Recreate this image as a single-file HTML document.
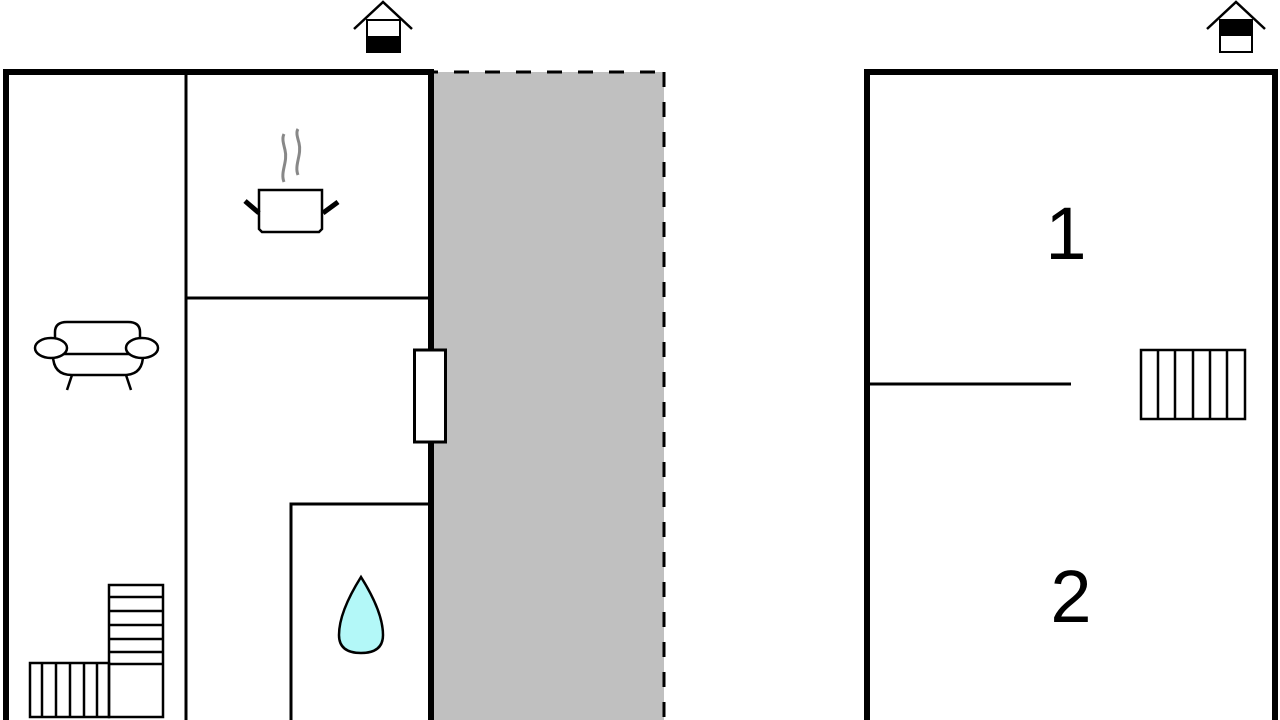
<!DOCTYPE html>
<html><head><style>html,body{margin:0;padding:0;background:#fff;}svg{display:block}</style></head>
<body>
<svg width="1280" height="720" viewBox="0 0 1280 720" xmlns="http://www.w3.org/2000/svg">
<rect x="434" y="72" width="230" height="660" fill="#c0c0c0"/>
<line x1="434" y1="72" x2="664" y2="72" stroke="#000" stroke-width="3" stroke-dasharray="15 16" stroke-dashoffset="-20"/>
<line x1="664" y1="72" x2="664" y2="720" stroke="#000" stroke-width="3" stroke-dasharray="15 15"/>
<!-- left building -->
<path d="M6 725 V72 H431 V725" fill="none" stroke="#000" stroke-width="6"/>
<line x1="186" y1="74" x2="186" y2="720" stroke="#000" stroke-width="3"/>
<line x1="186" y1="298" x2="429" y2="298" stroke="#000" stroke-width="3"/>
<path d="M291 720 V504 H429" fill="none" stroke="#000" stroke-width="3"/>
<rect x="414.5" y="350" width="31" height="92" fill="#fff" stroke="#000" stroke-width="3"/>
<!-- pot -->
<path d="M284 182 C280 172 288 162 285 150 C283 142 282 138 284 134" fill="none" stroke="#888" stroke-width="3"/>
<path d="M298 175 C294 165 302 155 299 143 C297 136 296 132 298 129" fill="none" stroke="#888" stroke-width="3"/>
<path d="M259 190 H322 V229 L319 232 H262 L259 229 Z" fill="#fff" stroke="#000" stroke-width="2.5"/>
<line x1="245" y1="201" x2="259" y2="213" stroke="#000" stroke-width="5"/>
<line x1="338" y1="202" x2="323" y2="213" stroke="#000" stroke-width="5"/>
<!-- sofa -->
<g fill="#fff" stroke="#000" stroke-width="2.5">
<path d="M55 345 V332 Q55 322 67 322 H128 Q140 322 140 332 V345"/>
<path d="M53 355 Q53 375 72 375 H124 Q143 375 143 355"/>
<line x1="62" y1="354" x2="130" y2="354"/>
<ellipse cx="51" cy="348" rx="16" ry="10"/>
<ellipse cx="142" cy="348" rx="16" ry="10"/>
<line x1="72" y1="375" x2="67" y2="390"/>
<line x1="126" y1="375" x2="131" y2="390"/>
</g>
<!-- stairs left -->
<g fill="none" stroke="#000" stroke-width="2.5">
<rect x="109" y="585" width="54" height="132"/>
<line x1="109" y1="597" x2="163" y2="597"/>
<line x1="109" y1="611" x2="163" y2="611"/>
<line x1="109" y1="625" x2="163" y2="625"/>
<line x1="109" y1="639" x2="163" y2="639"/>
<line x1="109" y1="652" x2="163" y2="652"/>
<line x1="109" y1="664" x2="163" y2="664"/>
<rect x="30" y="663" width="79" height="54"/>
<line x1="42" y1="663" x2="42" y2="717"/>
<line x1="56" y1="663" x2="56" y2="717"/>
<line x1="70" y1="663" x2="70" y2="717"/>
<line x1="84" y1="663" x2="84" y2="717"/>
<line x1="97" y1="663" x2="97" y2="717"/>
</g>
<!-- drop -->
<path d="M361 577 Q383 612 383 635 Q383 653 361 653 Q339 653 339 635 Q339 612 361 577 Z" fill="#b3f8f8" stroke="#000" stroke-width="2.5"/>
<!-- house icon left -->
<path d="M354 29 L383 2 L412 29" fill="none" stroke="#000" stroke-width="2.5"/>
<rect x="367" y="20" width="33" height="32" fill="#fff" stroke="#000" stroke-width="2"/>
<rect x="366" y="36" width="35" height="17" fill="#000"/>
<!-- right building -->
<path d="M867 725 V72 H1275 V725" fill="none" stroke="#000" stroke-width="6"/>
<line x1="869" y1="384" x2="1071" y2="384" stroke="#000" stroke-width="3"/>
<g fill="none" stroke="#000" stroke-width="2.5">
<rect x="1141" y="350" width="104" height="69"/>
<line x1="1158" y1="350" x2="1158" y2="419"/>
<line x1="1175" y1="350" x2="1175" y2="419"/>
<line x1="1193" y1="350" x2="1193" y2="419"/>
<line x1="1210" y1="350" x2="1210" y2="419"/>
<line x1="1227" y1="350" x2="1227" y2="419"/>
</g>
<text x="1066" y="259" font-family="Liberation Sans, sans-serif" font-size="74" text-anchor="middle">1</text>
<text x="1071" y="622" font-family="Liberation Sans, sans-serif" font-size="74" text-anchor="middle">2</text>
<!-- house icon right -->
<path d="M1207 29 L1236 2 L1265 29" fill="none" stroke="#000" stroke-width="2.5"/>
<rect x="1220" y="20" width="32" height="32" fill="#fff" stroke="#000" stroke-width="2"/>
<rect x="1219" y="19" width="34" height="17" fill="#000"/>
</svg>
</body></html>
